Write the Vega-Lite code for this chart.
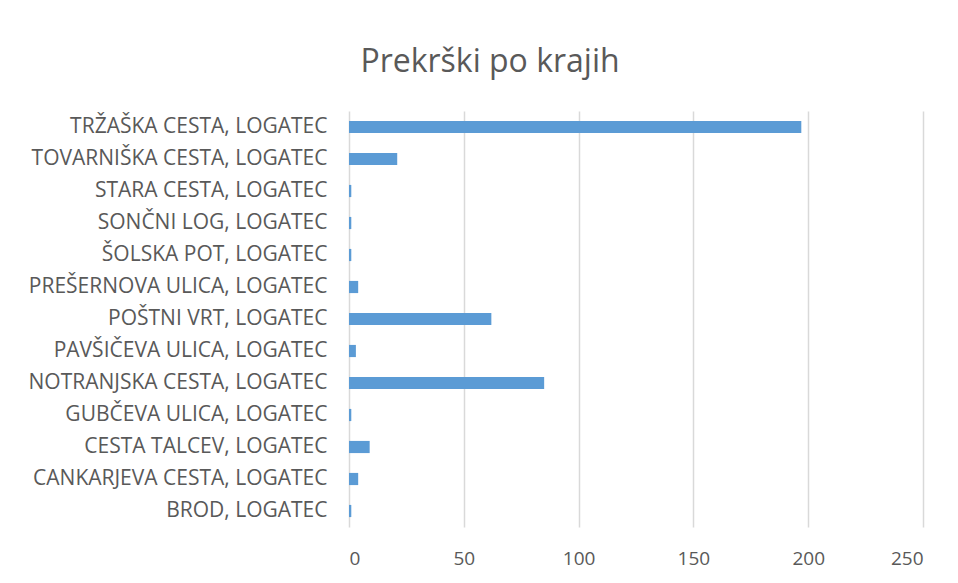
{
  "$schema": "https://vega.github.io/schema/vega-lite/v6.json",
  "autosize": {"type": "none"},
  "width": 574,
  "height": 416,
  "padding": {"left": 349, "top": 111, "right": 35, "bottom": 56},
  "background": "white",
  "title": {
    "text": "Prekrški po krajih",
    "anchor": "middle",
    "dx": -146,
    "baseline": "bottom",
    "offset": 0,
    "font": "Open Sans",
    "fontSize": 32,
    "fontWeight": "normal",
    "color": "#595959"
  },
  "data": {
    "values": [
      {"kraj": "TRŽAŠKA CESTA, LOGATEC", "prekrski": 197},
      {"kraj": "TOVARNIŠKA CESTA, LOGATEC", "prekrski": 21},
      {"kraj": "STARA CESTA, LOGATEC", "prekrski": 1},
      {"kraj": "SONČNI LOG, LOGATEC", "prekrski": 1},
      {"kraj": "ŠOLSKA POT, LOGATEC", "prekrski": 1},
      {"kraj": "PREŠERNOVA ULICA, LOGATEC", "prekrski": 4},
      {"kraj": "POŠTNI VRT, LOGATEC", "prekrski": 62},
      {"kraj": "PAVŠIČEVA ULICA, LOGATEC", "prekrski": 3},
      {"kraj": "NOTRANJSKA CESTA, LOGATEC", "prekrski": 85},
      {"kraj": "GUBČEVA ULICA, LOGATEC", "prekrski": 1},
      {"kraj": "CESTA TALCEV, LOGATEC", "prekrski": 9},
      {"kraj": "CANKARJEVA CESTA, LOGATEC", "prekrski": 4},
      {"kraj": "BROD, LOGATEC", "prekrski": 1}
    ]
  },
  "mark": {"type": "bar", "color": "#5B9BD5"},
  "encoding": {
    "y": {
      "field": "kraj",
      "type": "nominal",
      "sort": null,
      "scale": {"paddingInner": 0.62, "paddingOuter": 0.31},
      "axis": {
        "title": null,
        "domain": false,
        "ticks": false,
        "labelPadding": 22,
        "labelFont": "Open Sans",
        "labelFontSize": 21,
        "labelColor": "#595959",
        "labelLimit": 400
      }
    },
    "x": {
      "field": "prekrski",
      "type": "quantitative",
      "scale": {"domain": [0, 250], "nice": false},
      "axis": {
        "title": null,
        "values": [0, 50, 100, 150, 200, 250],
        "domain": false,
        "ticks": false,
        "grid": true,
        "gridColor": "#d9d9d9",
        "gridWidth": 1.5,
        "labelPadding": 22,
        "labelFont": "Open Sans",
        "labelFontSize": 19,
        "labelColor": "#595959"
      }
    }
  },
  "config": {"view": {"stroke": null}}
}
